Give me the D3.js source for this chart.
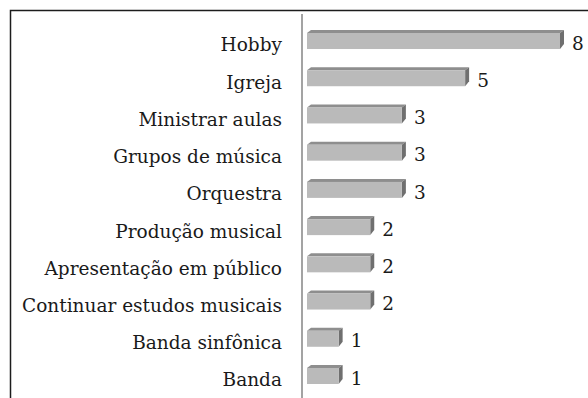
<!DOCTYPE html>
<html>
<head>
<meta charset="utf-8">
<script src="https://cdn.jsdelivr.net/npm/d3@7"></script>
<style>
  html, body { margin: 0; padding: 0; background: #fff; }
  svg { display: block; }
  text { font-family: "DejaVu Serif", serif; fill: #1a1a1a; }
</style>
</head>
<body>
<svg id="chart" width="588" height="398"></svg>
<script>
// Reasons given for musical activity, top to bottom
const categories = [
  "Hobby",
  "Igreja",
  "Ministrar aulas",
  "Grupos de música",
  "Orquestra",
  "Produção musical",
  "Apresentação em público",
  "Continuar estudos musicais",
  "Banda sinfônica",
  "Banda"
];
const counts = [8, 5, 3, 3, 3, 2, 2, 2, 1, 1];

const width = 588, height = 398;
const fontSize = 18.5;
const svg = d3.select("#chart");

// Frame: top and left edges only
svg.append("path")
  .attr("d", `M10.5,${height} V10.5 H${width}`)
  .attr("fill", "none")
  .attr("stroke", "#1c1c1c")
  .attr("stroke-width", 1.5);

const y = d3.scaleBand()
  .domain(categories)
  .range([22.4, 394.6])
  .paddingInner(0.57)
  .paddingOuter(0.285);

const x = d3.scaleLinear()
  .domain([0, 8])
  .range([307, 560]);

const depth = 4;   // 3D offset of bar top/side faces
const data = categories.map((c, i) => ({ cat: c, value: counts[i] }));

// Category axis (left), labels only plus a grey spine
const yAxis = d3.axisLeft(y).tickSize(0).tickPadding(0);
const gAxis = svg.append("g")
  .attr("transform", "translate(282,0)")
  .call(yAxis);
gAxis.select(".domain").remove();
gAxis.selectAll("text")
  .attr("font-family", "DejaVu Serif")
  .attr("font-size", fontSize)
  .attr("fill", "#1a1a1a")
  .attr("dy", "0.62em")
  .attr("y", -1);

svg.append("line")
  .attr("x1", 302).attr("x2", 302)
  .attr("y1", 14).attr("y2", height)
  .attr("stroke", "#a3a3a3")
  .attr("stroke-width", 2);

const bars = svg.append("g").selectAll("g")
  .data(data)
  .join("g");

// top face
bars.append("path")
  .attr("d", d => {
    const t = y(d.cat), x0 = x(0), x1 = x(d.value);
    return `M${x0},${t} L${x0 + depth},${t - depth + 1} L${x1 + depth},${t - depth + 1} L${x1},${t} Z`;
  })
  .attr("fill", "#8e8e8e");

// side face
bars.append("path")
  .attr("d", d => {
    const t = y(d.cat), b = t + y.bandwidth(), x1 = x(d.value);
    return `M${x1},${t} L${x1 + depth},${t - depth + 1} L${x1 + depth},${b - depth - 1} L${x1},${b} Z`;
  })
  .attr("fill", "#6f6f6f");

// front face
bars.append("rect")
  .attr("x", x(0))
  .attr("y", d => y(d.cat))
  .attr("width", d => x(d.value) - x(0))
  .attr("height", y.bandwidth())
  .attr("fill", "#bababa");

// value labels
bars.append("text")
  .attr("x", d => x(d.value) + depth + 8)
  .attr("y", d => y(d.cat) + y.bandwidth() / 2 + 2)
  .attr("dy", "0.36em")
  .attr("font-size", fontSize)
  .text(d => d.value);
</script>
</body>
</html>
